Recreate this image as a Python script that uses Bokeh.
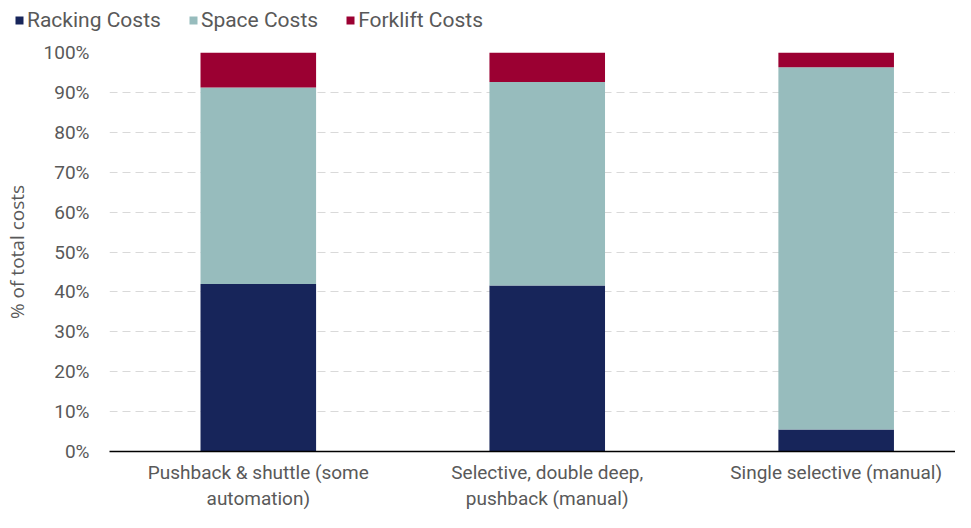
from bokeh.plotting import figure
from bokeh.layouts import column
from bokeh.models import Range1d, FixedTicker, Legend, LegendItem, ColumnDataSource, NumeralTickFormatter
from bokeh.embed import file_html
from bokeh.resources import INLINE

categories = ["Pushback & shuttle (some\nautomation)",
              "Selective, double deep,\npushback (manual)",
              "Single selective (manual)"]
racking = [0.420, 0.416, 0.055]
space = [0.492, 0.510, 0.908]
forklift = [0.088, 0.074, 0.037]
series_names = ["Racking Costs", "Space Costs", "Forklift Costs"]
colors = ["#17255a", "#97bcbd", "#9b0032"]
y_ticks = [0, 0.1, 0.2, 0.3, 0.4, 0.5, 0.6, 0.7, 0.8, 0.9, 1.0]

FONT = "Roboto"
GRAY = "#595959"
W = 955
LEG_H = 40
MAIN_H = 472

xs = list(range(len(categories)))
src = ColumnDataSource(dict(x=xs, racking=racking, space=space, forklift=forklift))
stack_keys = ["racking", "space", "forklift"]

# legend strip (its bars lie outside its visible y range; only the legend shows)
leg = figure(width=W, height=LEG_H, output_backend="svg", toolbar_location=None,
             x_range=Range1d(-0.515, 2.413), y_range=Range1d(5, 6),
             x_axis_type=None, y_axis_type=None,
             min_border_left=0, min_border_right=0, min_border_top=0, min_border_bottom=0)
leg.outline_line_color = None
leg.xgrid.visible = False
leg.ygrid.visible = False
leg_renderers = leg.vbar_stack(stack_keys, x="x", width=0.4, source=src, color=colors, line_color=None)
legend = Legend(items=[LegendItem(label=n, renderers=[r]) for n, r in zip(series_names, leg_renderers)],
                orientation="horizontal", location=(14, 8),
                padding=0, margin=0, spacing=27, label_standoff=3,
                glyph_width=10, glyph_height=10,
                border_line_color=None, background_fill_alpha=0,
                label_text_font=FONT, label_text_font_size="21px", label_text_color=GRAY)
leg.add_layout(legend, "center")

p = figure(width=W, height=MAIN_H, output_backend="svg", toolbar_location=None,
           x_range=Range1d(-0.515, 2.413), y_range=Range1d(0, 1.0),
           min_border_left=107, min_border_right=0, min_border_top=12, min_border_bottom=58)
p.outline_line_color = None

for fig in (leg, p):
    try:
        fig.frame_align = False
    except Exception:
        pass

p.vbar_stack(stack_keys, x="x", width=0.4, source=src, color=colors, line_color=None)

p.xaxis.ticker = FixedTicker(ticks=xs)
p.xaxis.major_label_overrides = {i: c for i, c in enumerate(categories)}
p.xaxis.major_tick_line_color = None
p.xaxis.minor_tick_line_color = None
p.xaxis.axis_line_color = "#000000"
p.xaxis.axis_line_width = 1.5
p.xaxis.major_label_text_font = FONT
p.xaxis.major_label_text_font_size = "19px"
p.xaxis.major_label_text_color = GRAY
p.xaxis.major_label_standoff = 3
p.xaxis.major_label_text_line_height = 1.15

p.yaxis.ticker = FixedTicker(ticks=y_ticks)
p.yaxis.formatter = NumeralTickFormatter(format="0%")
p.yaxis.axis_line_color = None
p.yaxis.major_tick_line_color = None
p.yaxis.minor_tick_line_color = None
p.yaxis.major_label_text_font = FONT
p.yaxis.major_label_text_font_size = "19px"
p.yaxis.major_label_text_color = GRAY
p.yaxis.major_label_standoff = 14
p.yaxis.axis_label = "% of total costs"
p.yaxis.axis_label_text_font = "Open Sans"
p.yaxis.axis_label_text_font_size = "19px"
p.yaxis.axis_label_text_font_style = "normal"
p.yaxis.axis_label_text_color = GRAY
p.yaxis.axis_label_standoff = 11

p.xgrid.grid_line_color = None
p.ygrid.grid_line_color = "#d9d9d9"
p.ygrid.grid_line_dash = "8 5"
p.ygrid.grid_line_width = 1

layout = column(leg, p, spacing=0)
open("out.html", "w").write(file_html(layout, INLINE))
